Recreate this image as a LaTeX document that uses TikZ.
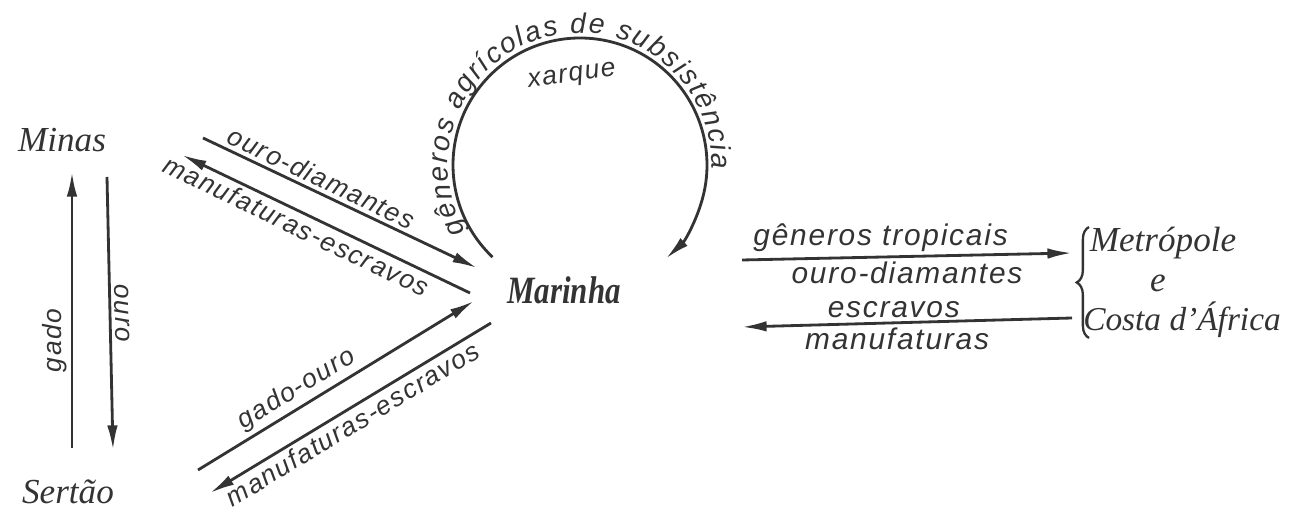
\documentclass[tikz,border=0pt]{standalone}
\usepackage{fontspec}
\setmainfont{Liberation Serif}
\setsansfont{Liberation Sans}
\newfontfamily\goodsfont{Liberation Sans}[LetterSpace=6]
\usetikzlibrary{arrows.meta,decorations.text,decorations.pathreplacing}
\colorlet{ink}{black!80}

\begin{document}
\begin{tikzpicture}[
	x=0.02cm, y=0.02cm,
	place/.style={ ink, font=\fontsize{20}{24}\selectfont\itshape, inner sep=1pt },
	goods/.style={ ink, font=\fontsize{15}{18}\selectfont\goodsfont\itshape, inner sep=2pt },
	goodsr/.style={ goods, font=\fontsize{17}{20}\selectfont\goodsfont\itshape },
	flow/.style={ ink, line width=1.6pt, -{Latex[length=14pt,width=6pt]} }
]
\useasboundingbox (0,0) rectangle (1290,516);

% places
\node at (62,376) (minas) [place] {Minas};
\node at (68,24) (sertao) [place] {Sertão};
\node at (564,226) (marinha) [place, font=\fontsize{22}{26}\selectfont\bfseries\itshape, xscale=0.8] {Marinha};
\node at (1163,273) (metropole) [place] {Metrópole};
\node at (1158,233) (e) [place] {e};
\node at (1182,196) (africa) [place, font=\fontsize{19}{23}\selectfont\itshape] {Costa d'África};

% Minas - Sertao
\coordinate (gs1) at (72,68);   \coordinate (gs2) at (72,344);
\coordinate (os1) at (107,339); \coordinate (os2) at (113,66);
\draw[flow] (gs1) -- node[goods, sloped, above, pos=0.39] {gado} (gs2);
\draw[flow] (os1) -- node[goods, sloped, above, pos=0.5] {ouro} (os2);

% Minas - Marinha
\coordinate (mm1) at (203,378); \coordinate (mm2) at (477,248);
\coordinate (mm3) at (470,223); \coordinate (mm4) at (182,361);
\draw[flow] (mm1) -- node[goods, sloped, above, pos=0.41] {ouro-diamantes} (mm2);
\draw[flow] (mm3) -- node[goods, sloped, below, pos=0.58] {manufaturas-escravos} (mm4);

% Sertao - Marinha
\coordinate (sm1) at (198,46);  \coordinate (sm2) at (474,215);
\coordinate (sm3) at (491,193); \coordinate (sm4) at (210,23);
\draw[flow] (sm1) -- node[goods, sloped, above, pos=0.39] {gado-ouro} (sm2);
\draw[flow] (sm3) -- node[goods, sloped, below, pos=0.52] {manufaturas-escravos} (sm4);

% Marinha - Marinha
\coordinate (loop) at (580,351);
\draw[flow] ([shift={(226.5:127)}]loop) arc[start angle=226.5, end angle=-47.5, radius=127];
\path[decorate, decoration={text along path, text align=fit to path,
	text={|\fontsize{16}{19}\selectfont\sffamily\itshape\color{ink}|gêneros agrícolas de subsistência}}]
	([shift={(210:132)}]loop) arc[start angle=210, end angle=-2, radius=132];
\node at (572,439) (xarque) [goods, rotate=8] {xarque};

% Marinha - Metropole
\coordinate (mt1) at (742,256);  \coordinate (mt2) at (1072,263);
\coordinate (mt3) at (1072,198); \coordinate (mt4) at (742,189);
\draw[flow] (mt1) -- node[goodsr, above, pos=0.42] {gêneros tropicais}
	node[goodsr, below, pos=0.50] {ouro-diamantes} (mt2);
\draw[flow] (mt3) -- node[goodsr, above, pos=0.54] {escravos}
	node[goodsr, below, pos=0.53] {manufaturas} (mt4);
\draw[ink, line width=1.3pt, decorate, decoration={brace, amplitude=7pt}] (1089,178) -- (1089,289);

\end{tikzpicture}
\end{document}
